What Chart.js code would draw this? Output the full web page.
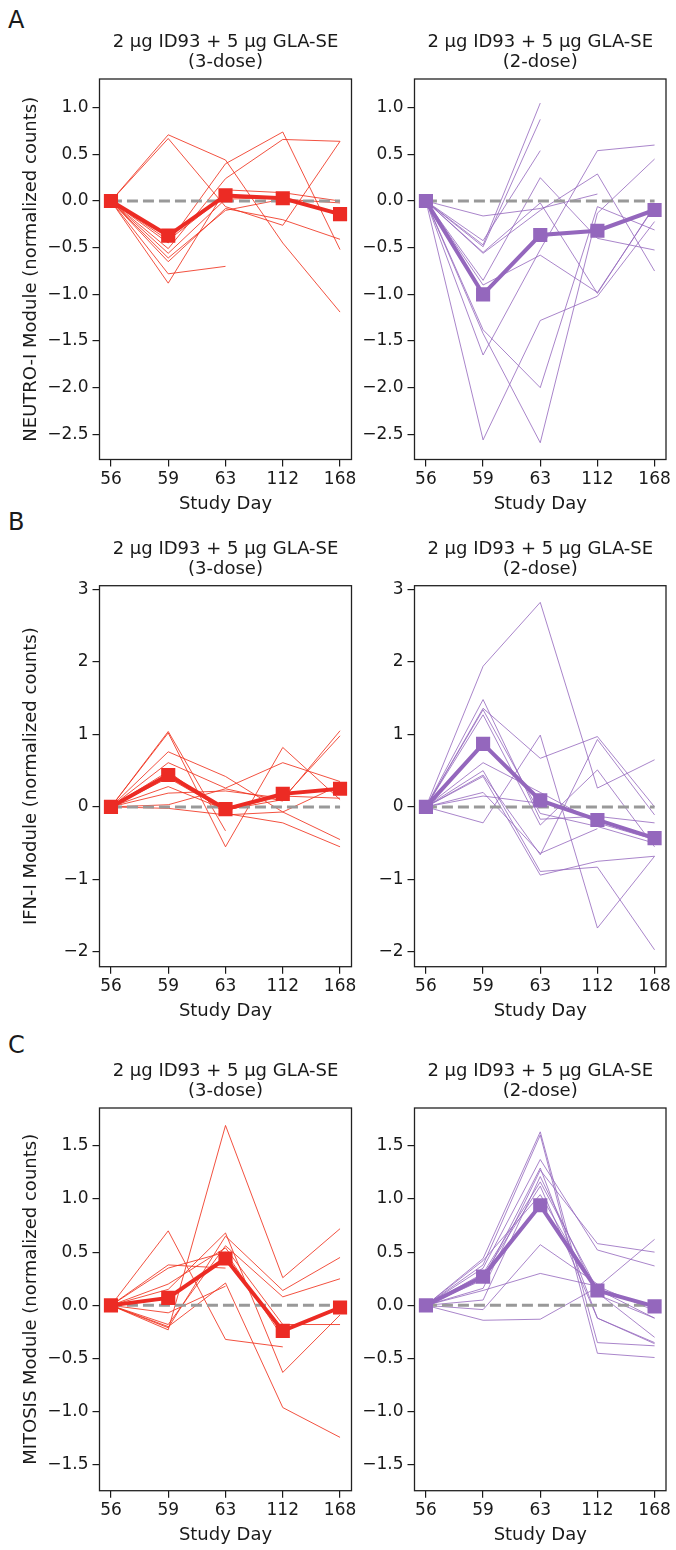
<!DOCTYPE html>
<html><head><meta charset="utf-8">
<script src="https://cdn.jsdelivr.net/npm/chart.js@4.4.1/dist/chart.umd.min.js"></script>
<style>
html,body{margin:0;padding:0;background:#fff;}
body{width:676px;height:1550px;position:relative;overflow:hidden;font-family:'DejaVu Sans',sans-serif;}
canvas{position:absolute;}
.letter{position:absolute;font-size:24px;line-height:24px;color:#1a1a1a;font-family:'DejaVu Sans',sans-serif;}
</style></head><body>
<div class="letter" style="left:8px;top:8px">A</div>
<div class="letter" style="left:8px;top:510px">B</div>
<div class="letter" style="left:8px;top:1033px">C</div>
<script>
// ---------- data ----------
const studyDays = ['56', '59', '63', '112', '168'];
const titleLine1 = '2 µg ID93 + 5 µg GLA-SE';
const title3Dose = '(3-dose)';
const title2Dose = '(2-dose)';

const neutroTicks = [-2.5, -2, -1.5, -1, -0.5, 0, 0.5, 1];
const ifnTicks = [-2, -1, 0, 1, 2, 3];
const mitosisTicks = [-1.5, -1, -0.5, 0, 0.5, 1, 1.5];

// NEUTRO-I, 3-dose (individual subjects)
const neutro3DoseSubjects = [
  [0, 0.71, 0.44, -0.45, -1.19],
  [0, 0.67, -0.06, -0.26, 0.64],
  [0, -0.45, 0.40, 0.74, -0.52],
  [0, -0.51, 0.24, 0.66, 0.64],
  [0, -0.78, -0.70, null, null],
  [0, -0.88, 0.12, 0.09, 0.00],
  [0, -0.65, -0.08, -0.20, -0.41],
  [0, -0.56, 0.02, 0.04, null],
  [0, -0.42, 0.06, null, null],
  [0, -0.61, -0.10, 0.02, -0.02]
];
const neutro3DoseMean = [0, -0.37, 0.06, 0.03, -0.14];

// NEUTRO-I, 2-dose
const neutro2DoseSubjects = [
  [0, -0.47, 1.05, null, null],
  [0, -0.49, 0.875, null, null],
  [0, -0.425, 0.54, null, null],
  [0, -0.16, -0.08, 0.075, null],
  [0, -0.85, 0.25, -0.40, -0.525],
  [0, -0.55, -0.02, -0.99, -0.05],
  [0, -1.38, -2.00, -0.06, -0.31],
  [0, -1.42, -2.59, -0.13, 0.45],
  [0, -2.56, -1.28, -1.02, -0.22],
  [0, -1.65, -0.52, 0.54, 0.60],
  [0, -0.90, -0.58, -0.98, -0.06],
  [0, -0.56, -0.10, 0.29, -0.75]
];
const neutro2DoseMean = [0, -1.00, -0.364, -0.318, -0.096];

// IFN-I, 3-dose
const ifn3DoseSubjects = [
  [0, 1.04, -0.33, null, null],
  [0, 1.02, -0.55, 0.82, 0.10],
  [0, 0.76, 0.42, -0.07, -0.45],
  [0, 0.61, 0.26, 0.61, 0.35],
  [0, 0.49, -0.09, -0.22, -0.55],
  [0, 0.28, -0.04, 0.10, 1.05],
  [0, 0.19, 0.22, 0.12, 0.98],
  [0, 0.03, 0.25, 0.08, null],
  [0, -0.02, -0.11, -0.07, 0.30],
  [0, 0.40, -0.05, 0.15, 0.12]
];
const ifn3DoseMean = [0, 0.44, -0.03, 0.18, 0.25];

// IFN-I, 2-dose
const ifn2DoseSubjects = [
  [0, 1.94, 2.82, 0.26, 0.65],
  [0, -0.22, 0.99, -1.67, -0.68],
  [0, 1.36, 0.67, 0.97, 0.00],
  [0, 0.44, -0.66, 0.93, -0.11],
  [0, 1.27, -0.25, 0.51, -0.55],
  [0, 0.50, -0.89, -0.83, -1.97],
  [0, 0.42, -0.94, -0.75, -0.68],
  [0, 1.34, -0.09, -0.27, -0.50],
  [0, 1.48, -0.17, -0.13, -0.22],
  [0, 0.61, 0.20, -0.22, -0.45],
  [0, 0.20, -0.64, -0.30, null],
  [0, 0.15, 0.05, null, null]
];
const ifn2DoseMean = [0, 0.87, 0.09, -0.18, -0.43];

// MITOSIS, 3-dose
const mitosis3DoseSubjects = [
  [0, 0.70, -0.32, -0.39, null],
  [0, -0.23, 1.69, 0.26, 0.72],
  [0, 0.38, 0.35, null, null],
  [0, -0.20, 0.21, -0.96, -1.24],
  [0, 0.15, 0.68, -0.63, -0.09],
  [0, -0.21, 0.65, 0.14, 0.45],
  [0, -0.18, 0.56, 0.08, 0.25],
  [0, 0.20, 0.54, -0.18, -0.18],
  [0, -0.07, 0.18, null, null],
  [0, 0.35, 0.50, -0.30, null]
];
const mitosis3DoseMean = [0, 0.07, 0.44, -0.24, -0.02];

// MITOSIS, 2-dose
const mitosis2DoseSubjects = [
  [0, 0.44, 1.63, -0.35, -0.38],
  [0, 0.38, 1.60, -0.45, -0.49],
  [0, 0.35, 1.37, 0.52, 0.37],
  [0, 0.24, 1.29, -0.12, -0.35],
  [0, 0.16, 1.27, 0.58, 0.50],
  [0, 0.05, 1.21, 0.10, -0.12],
  [0, 0.30, 1.16, 0.15, -0.12],
  [0, 0.42, 1.04, 0.12, -0.30],
  [0, -0.04, 0.57, 0.20, null],
  [0, 0.14, 0.30, 0.18, -0.05],
  [0, -0.14, -0.13, 0.17, 0.62],
  [0, 0.28, 1.12, -0.12, -0.36]
];
const mitosis2DoseMean = [0, 0.27, 0.94, 0.14, -0.01];

// ---------- drawing ----------
const FONT = "'DejaVu Sans', sans-serif";
const TEXT = '#1a1a1a';
const RED_THIN = 'rgba(240,50,30,0.85)';
const RED_MEAN = '#ec2b24';
const PUR_THIN = 'rgba(148,103,189,0.8)';
const PUR_MEAN = '#9467bd';

const fmt1 = v => (v < 0 ? '\u2212' : '') + Math.abs(v).toFixed(1);
const fmt0 = v => (v < 0 ? '\u2212' : '') + Math.abs(v).toFixed(0);

const frame = {
  id: 'frame',
  afterDraw(chart) {
    const {ctx, chartArea: a} = chart;
    ctx.save();
    ctx.strokeStyle = '#222';
    ctx.lineWidth = 1.3;
    ctx.strokeRect(a.left, a.top, a.right - a.left, a.bottom - a.top);
    ctx.restore();
  }
};

const X_H = 55.3;
function panel(o) {
  const T = Math.floor(o.chartTop - 79);
  const padTop = o.chartTop - 79 - T;
  const H = Math.ceil(o.chartBottom - T + X_H + 5);
  const padBottom = H - (o.chartBottom - T) - X_H;
  const c = document.createElement('canvas');
  c.width = o.width; c.height = H;
  c.style.left = o.left + 'px'; c.style.top = T + 'px';
  c.style.width = o.width + 'px'; c.style.height = H + 'px';
  document.body.appendChild(c);
  const toPts = arr => arr.map((v, i) => ({x: i, y: v})).filter(p => p.y !== null);
  const datasets = o.subjects.map(s => ({
    data: toPts(s), borderColor: o.thin, borderWidth: 1, pointRadius: 0, tension: 0, order: 2
  }));
  datasets.push({
    data: toPts(studyDays.map(() => 0)), borderColor: '#999999', borderWidth: 3,
    borderDash: [11, 5], pointRadius: 0, order: 1
  });
  datasets.push({
    data: toPts(o.mean), borderColor: o.meanColor, backgroundColor: o.meanColor,
    borderWidth: 4, pointStyle: 'rect', pointRadius: 10, pointBorderWidth: 0, order: 0
  });
  const tickGrid = {display: true, drawOnChartArea: false, drawTicks: true, tickLength: 7, color: TEXT, lineWidth: 1.2};
  new Chart(c, {
    type: 'line',
    data: {datasets},
    plugins: [frame],
    options: {
      responsive: false, animation: false, devicePixelRatio: 1,
      layout: {padding: {left: 0, right: o.padRight, top: padTop, bottom: padBottom}},
      plugins: {
        legend: {display: false}, tooltip: {enabled: false},
        title: {display: true, fullSize: false, text: [titleLine1, o.sub], color: TEXT,
          font: {family: FONT, size: 18, weight: 'normal', lineHeight: '20px'},
          padding: {top: 32.5, bottom: 6.5}}
      },
      scales: {
        x: {
          type: 'linear', min: -0.2, max: 4.2,
          afterBuildTicks: a => { a.ticks = studyDays.map((d, i) => ({value: i})); },
          afterFit: s => { s.height = X_H; },
          ticks: {callback: v => studyDays[v], font: {family: FONT, size: 17}, color: TEXT, padding: 3, autoSkip: false, maxRotation: 0},
          grid: tickGrid, border: {display: false},
          title: {display: true, text: 'Study Day', color: TEXT, font: {family: FONT, size: 18}, padding: {top: 0, bottom: 0}}
        },
        y: {
          min: o.yMin, max: o.yMax,
          afterBuildTicks: a => { a.ticks = o.yTicks.map(v => ({value: v})); },
          afterFit: s => { s.width = o.yWidth; },
          ticks: {callback: o.fmt, font: {family: FONT, size: 17}, color: TEXT, padding: 4, autoSkip: false},
          grid: tickGrid, border: {display: false},
          title: {display: !!o.yTitle, text: o.yTitle || '', color: TEXT, font: {family: FONT, size: 18}, padding: {top: 21, bottom: 0}}
        }
      }
    }
  });
}

const rows = [
  {chartTop: 79, chartBottom: 459.5, yMin: -2.77, yMax: 1.308, yTicks: neutroTicks, fmt: fmt1,
   yTitle: 'NEUTRO-I Module (normalized counts)', s3: neutro3DoseSubjects, m3: neutro3DoseMean, s2: neutro2DoseSubjects, m2: neutro2DoseMean},
  {chartTop: 585.7, chartBottom: 966.7, yMin: -2.203, yMax: 3.05, yTicks: ifnTicks, fmt: fmt0,
   yTitle: 'IFN-I Module (normalized counts)', s3: ifn3DoseSubjects, m3: ifn3DoseMean, s2: ifn2DoseSubjects, m2: ifn2DoseMean},
  {chartTop: 1108, chartBottom: 1490.7, yMin: -1.741, yMax: 1.854, yTicks: mitosisTicks, fmt: fmt1,
   yTitle: 'MITOSIS Module (normalized counts)', s3: mitosis3DoseSubjects, m3: mitosis3DoseMean, s2: mitosis2DoseSubjects, m2: mitosis2DoseMean}
];

rows.forEach(r => {
  panel({left: 0, width: 364, yWidth: 99.5, padRight: 12.5, chartTop: r.chartTop, chartBottom: r.chartBottom,
    yMin: r.yMin, yMax: r.yMax, yTicks: r.yTicks, fmt: r.fmt, yTitle: r.yTitle, sub: title3Dose,
    subjects: r.s3, mean: r.m3, thin: RED_THIN, meanColor: RED_MEAN});
  panel({left: 356, width: 320, yWidth: 58.5, padRight: 9.5, chartTop: r.chartTop, chartBottom: r.chartBottom,
    yMin: r.yMin, yMax: r.yMax, yTicks: r.yTicks, fmt: r.fmt, yTitle: null, sub: title2Dose,
    subjects: r.s2, mean: r.m2, thin: PUR_THIN, meanColor: PUR_MEAN});
});
</script>
</body></html>
